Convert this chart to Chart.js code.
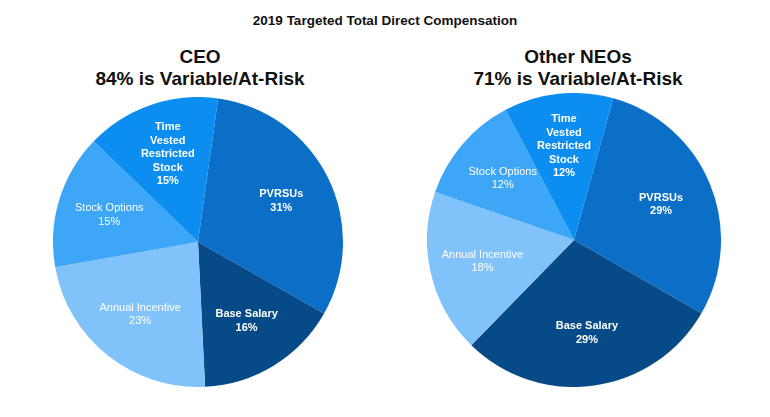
<html>
<head>
    <title>2019 Targeted Total Direct Compensation</title>
    <style>
        body { margin: 0; background: #fff; font-family: "Liberation Sans", Arial, sans-serif; }
        .page { position: relative; width: 770px; height: 417px; }
        .title { position: absolute; top: 13px; left: 0; width: 770px; text-align: center; font-size: 13.5px; font-weight: bold; color: #111; }
        .sub { position: absolute; width: 360px; text-align: center; font-size: 19px; font-weight: bold; color: #111; line-height: 22px; }
        .pie { position: absolute; }
    </style>
</head>
<body>
<div class="page">
    <div class="title">2019 Targeted Total Direct Compensation</div>
    <div class="sub" style="left:20px; top:46px;">CEO<br>84% is Variable/At-Risk</div>
    <div class="sub" style="left:398px; top:46px;">Other NEOs<br>71% is Variable/At-Risk</div>
    <div class="pie" style="left:53px; top:97px; width:290px; height:290px;"><canvas id="ceoChart"></canvas></div>
    <div class="pie" style="left:427px; top:93px; width:294px; height:294px;"><canvas id="neoChart"></canvas></div>
</div>
<script src="https://cdn.jsdelivr.net/npm/chart.js@4.4.0/dist/chart.umd.min.js"></script>
<script>
var categories = ['PVRSUs', 'Base Salary', 'Annual Incentive', 'Stock Options', 'Time Vested Restricted Stock'];
var ceoValues = [31, 16, 23, 15, 15];
var neoValues = [29, 29, 18, 12, 12];
var sliceColors = ['#0b6ec7', '#064a87', '#80c3fa', '#3da6f7', '#0b8ef0'];

// labels are drawn inside each slice, white, centered on the slice
var sliceLabels = {
    id: 'sliceLabels',
    afterDatasetsDraw: function(chart) {
        var ctx = chart.ctx;
        var meta = chart.getDatasetMeta(0);
        var values = chart.data.datasets[0].data;
        ctx.save();
        ctx.fillStyle = '#ffffff';
        ctx.textAlign = 'center';
        ctx.textBaseline = 'middle';
        meta.data.forEach(function(arc, i) {
            var p = arc.getProps(['x', 'y', 'startAngle', 'endAngle', 'outerRadius'], true);
            var mid = (p.startAngle + p.endAngle) / 2;
            var r = p.outerRadius * 0.64;
            var x = p.x + Math.cos(mid) * r;
            var y = p.y + Math.sin(mid) * r;
            var name = chart.data.labels[i];
            var lines = name == 'Time Vested Restricted Stock' ? ['Time', 'Vested', 'Restricted', 'Stock'] : [name];
            lines.push(values[i] + '%');
            var weight = (i == 2 || i == 3) ? 'normal' : 'bold';
            ctx.font = weight + ' 11px "Liberation Sans", Arial, sans-serif';
            var lh = 13.5;
            var top = y - (lines.length - 1) * lh / 2;
            lines.forEach(function(t, j) {
                ctx.fillText(t, x, top + j * lh);
            });
        });
        ctx.restore();
    }
};

function makePie(id, values, rotation) {
    return new Chart(document.getElementById(id), {
        type: 'pie',
        data: {
            labels: categories,
            datasets: [{
                data: values,
                backgroundColor: sliceColors,
                borderWidth: 0
            }]
        },
        options: {
            responsive: true,
            maintainAspectRatio: false,
            animation: false,
            rotation: rotation,
            layout: { padding: 0 },
            plugins: {
                legend: { display: false },
                tooltip: { enabled: false }
            }
        },
        plugins: [sliceLabels]
    });
}

makePie('ceoChart', ceoValues, 8);
makePie('neoChart', neoValues, 15.5);
</script>
</body>
</html>
